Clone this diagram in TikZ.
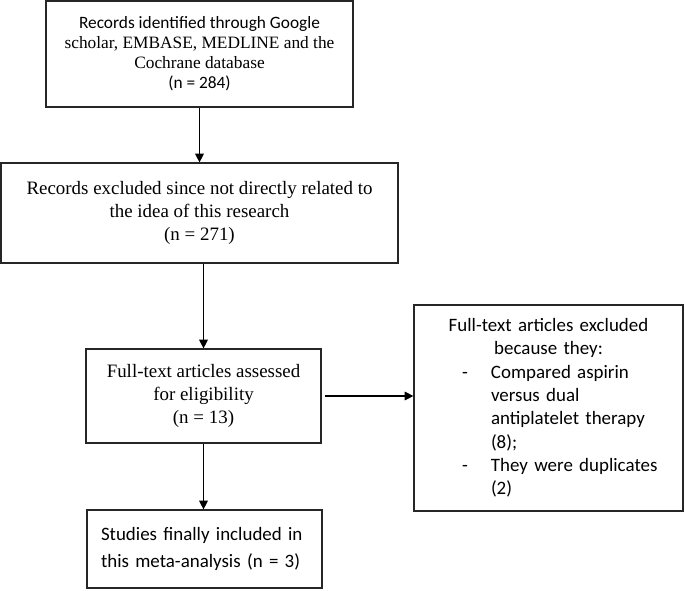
\documentclass[tikz,border=0pt]{standalone}
\usepackage{fontspec}
\setmainfont{Liberation Serif}
\newfontfamily\calibri{Carlito}
\usetikzlibrary{arrows.meta}

\begin{document}
\begin{tikzpicture}[x=0.75pt,y=-0.75pt,
	box/.style={draw=black!85,line width=0.9pt,inner sep=0pt,align=center},
	flow/.style={-{Triangle[length=6.5pt,width=6.5pt]},line width=0.8pt}]
	\useasboundingbox (0,0) rectangle (685,590);
	% identification
	\node[box,minimum width=230.25pt,minimum height=79.5pt,font=\fontsize{13}{15}\selectfont] (found) at (199.5,54)
	{{\calibri Records identified through Google}\\scholar, EMBASE, MEDLINE and the\\Cochrane database\\{\calibri (n = 284)}};
	\node[box,minimum width=297.75pt,minimum height=75pt,font=\fontsize{14.2}{17}\selectfont] (dropped) at (199.5,213)
	{Records excluded since not directly related to\\the idea of this research\\(n = 271)};
	% eligibility
	\node[box,minimum width=176.25pt,minimum height=70.5pt,font=\fontsize{14.2}{17.25}\selectfont] (assessed) at (203.5,396)
	{Full-text articles assessed\\for eligibility\\(n = 13)};
	\node[box,text width=201.75pt,minimum height=154.5pt,align=left,font=\calibri\fontsize{14.2}{17.5}\selectfont] (ftdropped) at (548.5,408)
	{\makebox[201.75pt]{Full-text articles excluded}\\
	\makebox[201.75pt]{because they:}\\
	\hspace*{36pt}\makebox[21.75pt][l]{-}Compared aspirin\\
	\hspace*{57.75pt}versus dual\\
	\hspace*{57.75pt}antiplatelet therapy\\
	\hspace*{57.75pt}(8);\\
	\hspace*{36pt}\makebox[21.75pt][l]{-}They were duplicates\\
	\hspace*{57.75pt}(2)};
	% included
	\node[box,minimum width=176.25pt,minimum height=58.5pt,text width=155.25pt,align=left,font=\calibri\fontsize{14.2}{20}\selectfont] (included) at (204.5,549)
	{Studies finally included in\\this meta-analysis (n = 3)};
	% arrows
	\draw[flow] (found.south) -- (dropped.north);
	\draw[flow] (dropped.south -| assessed.north) -- (assessed.north);
	\draw[flow,shorten <=2.25pt] (assessed.east) -- (assessed.east -| ftdropped.west);
	\draw[flow] (assessed.south) -- (assessed.south |- included.north);
\end{tikzpicture}
\end{document}
